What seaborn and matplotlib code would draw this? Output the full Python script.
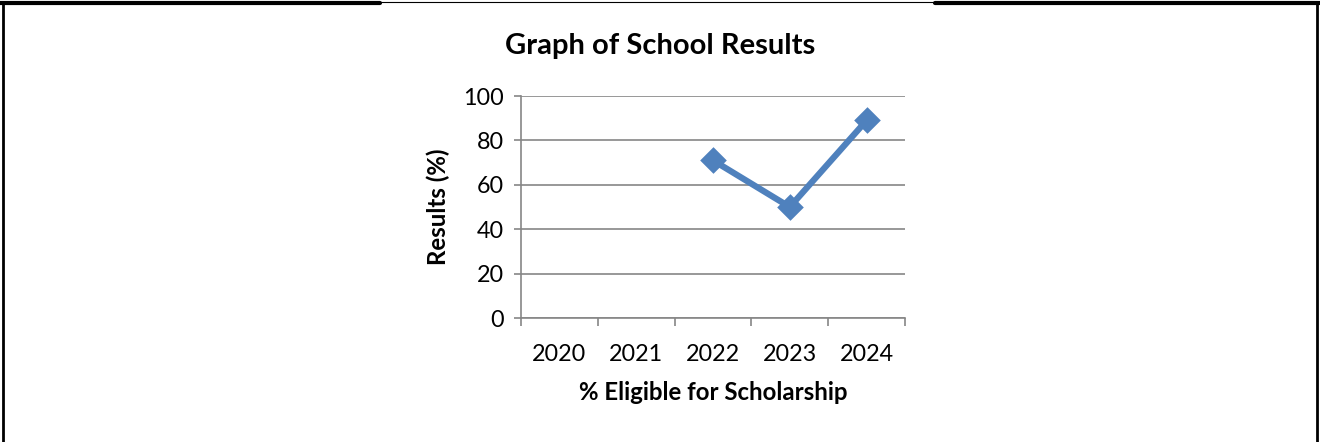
import numpy as np
import pandas as pd
import seaborn as sns
import matplotlib
matplotlib.use("Agg")
import matplotlib.pyplot as plt
from matplotlib.lines import Line2D
from matplotlib.ticker import FixedLocator

years = ["2020", "2021", "2022", "2023", "2024"]
results = [np.nan, np.nan, 71, 50, 89]
y_ticks = [0, 20, 40, 60, 80, 100]

sns.set_theme(style="white")
plt.rcParams["font.family"] = ["Lato", "DejaVu Sans"]

df = pd.DataFrame({"year": years, "result": results})

fig = plt.figure(figsize=(13.2, 4.42), dpi=100)
ax = fig.add_axes([0.3947, 0.2805, 0.2909, 0.5023])

sns.pointplot(data=df, x="year", y="result", order=years, ax=ax,
              color="#4F81BD", markers="D", linestyles="-",
              markersize=10, linewidth=4.5, errorbar=None)

grid_c = "#868686"
ax.set_ylim(0, 100)
ax.set_xlim(-0.5, len(years) - 0.5)
ax.set_yticks(y_ticks)
ax.yaxis.grid(True, color=grid_c, linewidth=1.2)
ax.set_axisbelow(True)
for s in ["top", "right"]:
    ax.spines[s].set_visible(False)
for s in ["left", "bottom"]:
    ax.spines[s].set_color(grid_c)
    ax.spines[s].set_linewidth(1.2)

ax.tick_params(axis="y", which="major", length=5, width=1.2, color=grid_c,
               direction="out", labelsize=16.8, pad=7, left=True)
ax.tick_params(axis="x", which="major", length=0, labelsize=16.8, pad=19)
ax.xaxis.set_minor_locator(FixedLocator(np.arange(-0.5, len(years), 1.0)))
ax.tick_params(axis="x", which="minor", length=6, width=1.2, color=grid_c,
               direction="out", bottom=True)
for lab in ax.get_xticklabels() + ax.get_yticklabels():
    lab.set_color("black")

ax.set_xlabel("% Eligible for Scholarship", fontsize=17.3, fontweight="bold",
              labelpad=11, color="black")
ax.set_ylabel("Results (%)", fontsize=17.3, fontweight="bold",
              labelpad=10, color="black")

fig.text(0.5, 0.897, "Graph of School Results", ha="center", va="center",
         fontsize=21, fontweight="bold", color="black")

# outer frame
fig.add_artist(Line2D([0.0025, 0.0025], [0, 0.995], transform=fig.transFigure,
                      color="black", linewidth=2))
fig.add_artist(Line2D([0.9975, 0.9975], [0, 0.995], transform=fig.transFigure,
                      color="black", linewidth=2))
fig.add_artist(Line2D([0, 0.288], [0.993, 0.993], transform=fig.transFigure,
                      color="black", linewidth=3))
fig.add_artist(Line2D([0.708, 1], [0.993, 0.993], transform=fig.transFigure,
                      color="black", linewidth=3))
fig.add_artist(Line2D([0.288, 0.708], [0.996, 0.996], transform=fig.transFigure,
                      color="black", linewidth=0.8))

fig.savefig("out.png", dpi=100)
